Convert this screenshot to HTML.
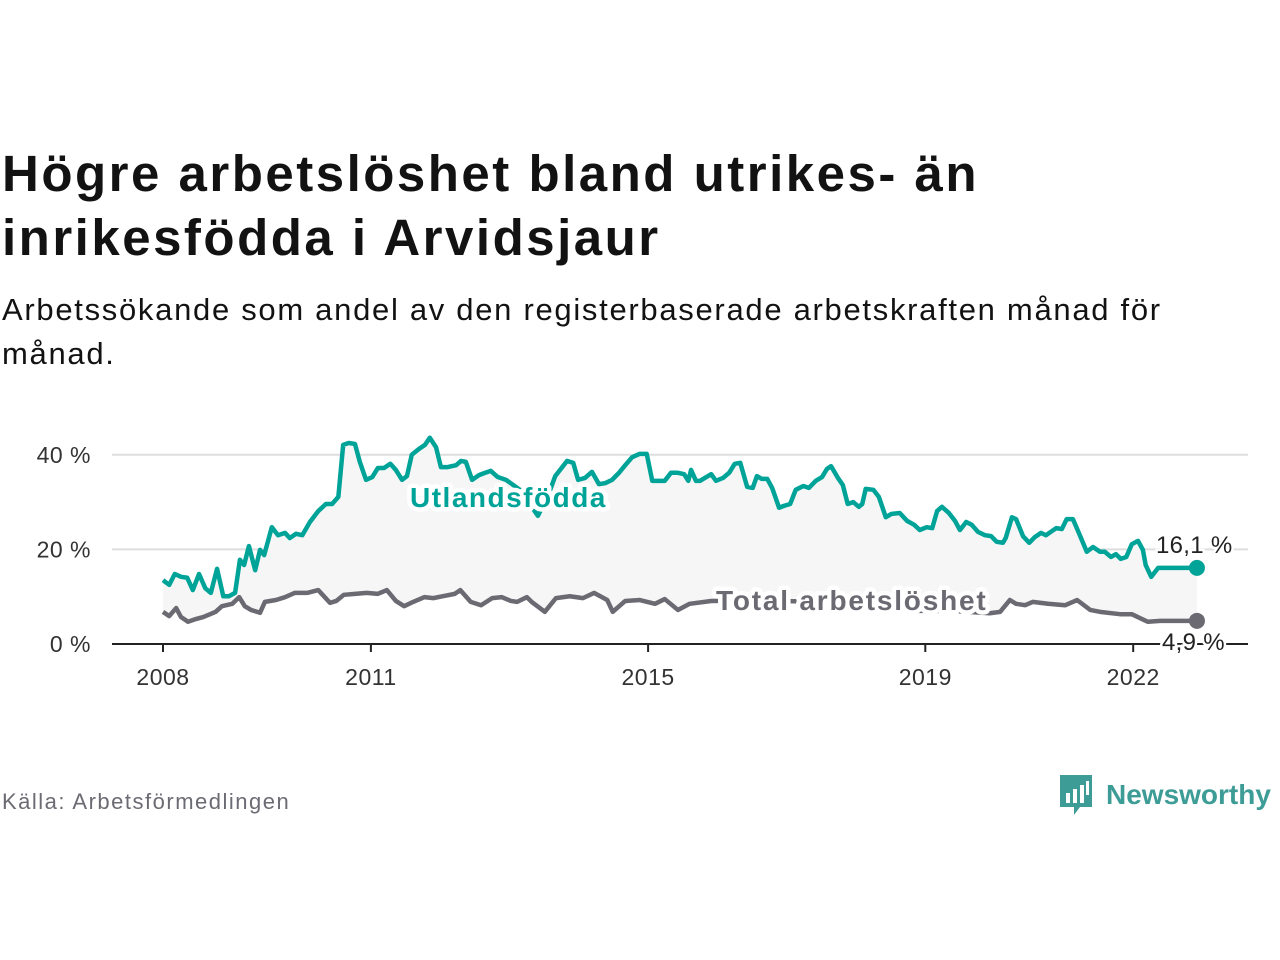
<!DOCTYPE html>
<html><head><meta charset="utf-8">
<style>
body{margin:0;width:1280px;height:960px;background:#fff;font-family:"Liberation Sans",sans-serif;color:#121212;position:relative;overflow:hidden}
#title{position:absolute;left:2px;top:142px;font-size:51px;font-weight:bold;line-height:64px;white-space:nowrap;letter-spacing:2.5px}
#sub{position:absolute;left:2px;top:288px;font-size:31px;line-height:44px;white-space:nowrap;letter-spacing:1.7px}
#src{position:absolute;left:2px;top:789px;font-size:22px;color:#6b6b73;letter-spacing:1.5px}
#logo{position:absolute;left:1058px;top:773px;display:flex;align-items:center}
#chart{position:absolute;left:0;top:0}
</style></head><body>
<div id="title">Högre arbetslöshet bland utrikes- än<br>inrikesfödda i Arvidsjaur</div>
<div id="sub">Arbetssökande som andel av den registerbaserade arbetskraften månad för<br>månad.</div>
<svg id="chart" width="1280" height="960"></svg>
<div id="src">Källa: Arbetsförmedlingen</div>
<div id="logo">
<svg width="36" height="44"><path d="M2 2h32v32h-12l-6 8v-8h-14z" fill="#3d9c96"/><rect x="8" y="20" width="4" height="10" fill="#fff"/><rect x="15" y="16" width="4" height="14" fill="#fff"/><rect x="22" y="12" width="4" height="18" fill="#fff"/><rect x="28" y="8" width="3" height="14" fill="#fff"/></svg>
<span style="font-size:28px;color:#3d9c96;margin-left:12px;font-weight:bold">Newsworthy</span>
</div>
<script>
const utlDates=[2008.00,2008.09,2008.17,2008.26,2008.35,2008.43,2008.52,2008.61,2008.69,2008.78,2008.87,2008.95,2009.04,2009.11,2009.17,2009.24,2009.33,2009.40,2009.46,2009.57,2009.66,2009.76,2009.83,2009.92,2010.01,2010.12,2010.24,2010.35,2010.44,2010.53,2010.60,2010.68,2010.77,2010.84,2010.93,2011.02,2011.10,2011.19,2011.28,2011.36,2011.45,2011.52,2011.59,2011.69,2011.78,2011.85,2011.94,2012.01,2012.11,2012.23,2012.30,2012.37,2012.46,2012.56,2012.65,2012.73,2012.83,2012.95,2013.15,2013.41,2013.56,2013.66,2013.74,2013.83,2013.92,2013.99,2014.09,2014.19,2014.29,2014.38,2014.48,2014.58,2014.67,2014.77,2014.88,2014.98,2015.06,2015.17,2015.24,2015.33,2015.43,2015.52,2015.58,2015.62,2015.69,2015.75,2015.84,2015.91,2015.98,2016.08,2016.17,2016.25,2016.33,2016.43,2016.51,2016.57,2016.64,2016.72,2016.79,2016.89,2016.96,2017.05,2017.13,2017.24,2017.32,2017.42,2017.51,2017.58,2017.64,2017.74,2017.81,2017.88,2017.96,2018.04,2018.09,2018.14,2018.25,2018.33,2018.43,2018.51,2018.63,2018.74,2018.84,2018.92,2019.02,2019.10,2019.17,2019.24,2019.34,2019.43,2019.50,2019.59,2019.67,2019.76,2019.86,2019.95,2020.03,2020.12,2020.16,2020.25,2020.31,2020.41,2020.50,2020.58,2020.67,2020.74,2020.83,2020.89,2020.97,2021.04,2021.13,2021.23,2021.33,2021.42,2021.52,2021.59,2021.68,2021.75,2021.82,2021.90,2021.98,2022.07,2022.14,2022.18,2022.26,2022.36,2022.50,2022.92];
const utlValues=[13.5,12.5,14.8,14.2,14.0,11.4,14.8,11.8,10.8,15.9,10.1,10.1,10.8,17.8,16.7,20.7,15.6,19.9,18.8,24.7,23.0,23.5,22.4,23.3,23.0,25.8,28.1,29.6,29.6,31.1,42.1,42.5,42.3,38.5,34.7,35.3,37.2,37.2,38.1,36.8,34.7,35.5,40.0,41.2,42.1,43.6,41.6,37.4,37.4,37.8,38.7,38.5,34.7,35.7,36.2,36.6,35.3,34.7,32.6,27.1,31.5,35.5,37.0,38.7,38.3,34.7,35.1,36.4,33.8,34.0,34.7,36.2,37.8,39.5,40.2,40.2,34.5,34.5,34.5,36.2,36.2,35.9,34.5,36.8,34.5,34.5,35.3,35.9,34.5,35.1,36.2,38.1,38.3,33.2,33.0,35.5,34.9,34.9,33.0,28.8,29.2,29.6,32.6,33.4,33.0,34.5,35.3,37.0,37.6,35.1,33.6,29.6,30.0,29.0,29.6,32.8,32.6,31.1,26.8,27.5,27.7,26.0,25.2,24.1,24.7,24.5,28.1,29.0,27.7,26.0,24.1,25.8,25.2,23.7,23.0,22.8,21.6,21.4,22.4,26.8,26.4,22.8,21.4,22.6,23.5,23.0,23.9,24.5,24.3,26.4,26.4,23.0,19.5,20.5,19.5,19.5,18.4,19.0,18.0,18.4,21.1,21.8,19.9,16.7,14.2,16.1,16.1,16.1];
const totDates=[2008.00,2008.09,2008.19,2008.26,2008.36,2008.48,2008.58,2008.68,2008.76,2008.85,2009.00,2009.10,2009.18,2009.27,2009.40,2009.47,2009.63,2009.76,2009.90,2010.08,2010.24,2010.41,2010.50,2010.61,2010.77,2010.94,2011.10,2011.23,2011.36,2011.48,2011.58,2011.77,2011.90,2012.04,2012.21,2012.29,2012.44,2012.59,2012.75,2012.89,2013.02,2013.11,2013.25,2013.32,2013.51,2013.67,2013.87,2014.06,2014.22,2014.41,2014.49,2014.67,2014.88,2015.10,2015.24,2015.43,2015.60,2015.91,2016.50,2017.19,2017.90,2018.40,2018.89,2019.40,2019.93,2020.08,2020.22,2020.31,2020.44,2020.55,2020.77,2021.02,2021.19,2021.38,2021.52,2021.81,2021.98,2022.21,2022.39,2022.63,2022.92];
const totValues=[6.8,5.9,7.6,5.7,4.7,5.3,5.7,6.3,6.8,8.0,8.5,9.9,8.0,7.2,6.6,8.9,9.3,9.9,10.8,10.8,11.4,8.7,9.1,10.4,10.6,10.8,10.6,11.4,9.1,8.0,8.7,9.9,9.7,10.1,10.6,11.4,8.9,8.2,9.7,9.9,9.1,8.9,9.9,8.9,6.8,9.7,10.1,9.7,10.8,9.3,6.8,9.1,9.3,8.5,9.5,7.2,8.5,9.1,9.2,9.0,8.8,8.5,7.0,7.0,6.5,6.8,9.3,8.5,8.2,8.9,8.5,8.2,9.3,7.2,6.8,6.3,6.3,4.7,4.9,4.9,4.9];
const yTicks=[0,20,40];
const yTickLabels=["0 %","20 %","40 %"];
const xTicks=[2008,2011,2015,2019,2022];

const svg=document.getElementById('chart');
const NS='http://www.w3.org/2000/svg';
const X=d=>163+(d-2008)*69.3;
const Y=v=>644-v*4.73;
function mk(tag,attrs,parent){const e=document.createElementNS(NS,tag);for(const k in attrs)e.setAttribute(k,attrs[k]);(parent||svg).appendChild(e);return e;}

yTicks.forEach((t,i)=>{
  if(t>0){const g=mk('line',{x1:112,x2:1248,y1:Y(t),y2:Y(t),stroke:'#dedede','stroke-width':2});
  
  }
  const tx=mk('text',{x:91,y:Y(t)+8,'text-anchor':'end','font-size':23,fill:'#333','font-family':'Liberation Sans, sans-serif','letter-spacing':'0.5'});
  tx.textContent=yTickLabels[i];
  
  
});
let pts=utlDates.map((d,i)=>X(d)+','+Y(utlValues[i]));
for(let i=totDates.length-1;i>=0;i--)pts.push(X(totDates[i])+','+Y(totValues[i]));
const area=mk('polygon',{points:pts.join(' '),fill:'#f6f6f6'});


const ax=mk('line',{x1:112,x2:1248,y1:644,y2:644,stroke:'#222','stroke-width':2});


xTicks.forEach(t=>{
  const l=mk('line',{x1:X(t),x2:X(t),y1:644,y2:652,stroke:'#222','stroke-width':2});
  
  
  const tx=mk('text',{x:X(t),y:685,'text-anchor':'middle','font-size':23,fill:'#333','font-family':'Liberation Sans, sans-serif','letter-spacing':'0.5'});
  tx.textContent=t;
  
  
});
function line(ds,vs,color,name){
  const p=mk('polyline',{points:ds.map((d,i)=>X(d)+','+Y(vs[i])).join(' '),fill:'none',stroke:color,'stroke-width':4.5,'stroke-linejoin':'round'});
  
  
  const n=ds.length-1;
  const c=mk('circle',{cx:X(ds[n]),cy:Y(vs[n]),r:8,fill:color});
  
  
}
line(totDates,totValues,'#6b6a72','total-line');
line(utlDates,utlValues,'#00a398','utlandsfodda-line');
function label(x,y,txt,color,name,ls){
  const t=mk('text',{x:x,y:y,'font-size':28,'font-weight':'bold',fill:color,stroke:'#fff','stroke-width':9,'paint-order':'stroke','stroke-linejoin':'round','font-family':'Liberation Sans, sans-serif','letter-spacing':ls});
  t.textContent=txt;
  
  
}
label(410,507,'Utlandsfödda','#00a398','utlandsfodda-label','1.5');
label(716,610,'Total arbetslöshet','#6b6a72','total-label','1.8');
function endLabel(x,y,txt,name){
  const t=mk('text',{x:x,y:y,'font-size':24,fill:'#222',stroke:'#fff','stroke-width':5,'paint-order':'stroke','font-family':'Liberation Sans, sans-serif','letter-spacing':'0.3'});
  t.textContent=txt;
  
  
}
endLabel(1156,553,'16,1 %','utlandsfodda-end-value');
endLabel(1162,650,'4,9 %','total-end-value');
</script>
</body></html>
